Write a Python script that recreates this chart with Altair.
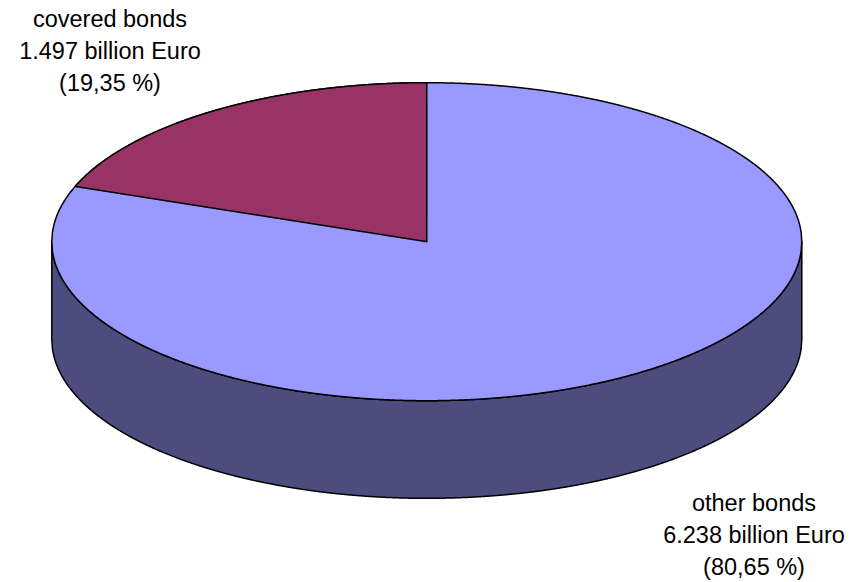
import altair as alt
import numpy as np
import pandas as pd

# ---- data ----
categories = ["covered bonds", "other bonds"]
values_bn = [1.497, 6.238]

total = sum(values_bn)
shares = [v / total for v in values_bn]
pct_text = [f"{s * 100:.2f}".replace(".", ",") + " %" for s in shares]
label_text = [f"{c}\n{v:.3f} billion Euro\n({p})" for c, v, p in zip(categories, values_bn, pct_text)]

# ---- geometry derived from the data (unit ellipse, projected) ----
DEPTH = 0.614  # thickness of the 3D pie in ellipse units
theta = shares[0] * 2 * np.pi  # covered bonds angle, counter-clockwise from 12 o'clock
x_end = -np.sin(theta)
y_end = np.cos(theta)

xs = np.linspace(-1, 1, 1201)
half = np.sqrt(np.clip(1 - xs ** 2, 0, None))
side_df = pd.DataFrame({"x": xs, "y": -half, "y2": -half - DEPTH})
top_df = pd.DataFrame({"x": xs, "y": half, "y2": -half})

xw = np.linspace(x_end, 0, 600)
wedge_df = pd.DataFrame({
    "x": xw,
    "y": np.sqrt(np.clip(1 - xw ** 2, 0, None)),
    "y2": xw * (y_end / x_end),
})

labels_df = pd.DataFrame({"category": categories, "label": label_text})

xscale = alt.Scale(domain=[-1.1381, 1.1312], nice=False, zero=False)
yscale = alt.Scale(domain=[-2.1403, 1.5201], nice=False, zero=False)

stroke_kw = dict(stroke="black", strokeWidth=1.5, strokeJoin="round")


def area_layer(df, fill):
    return alt.Chart(df).mark_area(fill=fill, **stroke_kw).encode(
        x=alt.X("x:Q", scale=xscale, axis=None),
        y=alt.Y("y:Q", scale=yscale, axis=None),
        y2="y2:Q",
    )


side = area_layer(side_df, "#4C4C7E")
top = area_layer(top_df, "#9999FF")
wedge = area_layer(wedge_df, "#993366")

text_kw = dict(font="Liberation Sans", fontSize=23.5, color="black", lineBreak="\n",
               lineHeight=32, align="center", baseline="alphabetic")

lab_cov = alt.Chart(labels_df).transform_filter(
    alt.datum.category == categories[0]
).mark_text(**text_kw).encode(text="label:N", x=alt.value(110), y=alt.value(27))

lab_oth = alt.Chart(labels_df).transform_filter(
    alt.datum.category == categories[1]
).mark_text(**text_kw).encode(text="label:N", x=alt.value(754), y=alt.value(511))

chart = alt.layer(side, top, wedge, lab_cov, lab_oth).properties(
    width=851, height=582,
    padding=0,
    autosize=alt.AutoSizeParams(type="none"),
    background="white",
).configure_view(stroke=None)

chart.save("out.html", embed_options={"renderer": "svg", "actions": False})
